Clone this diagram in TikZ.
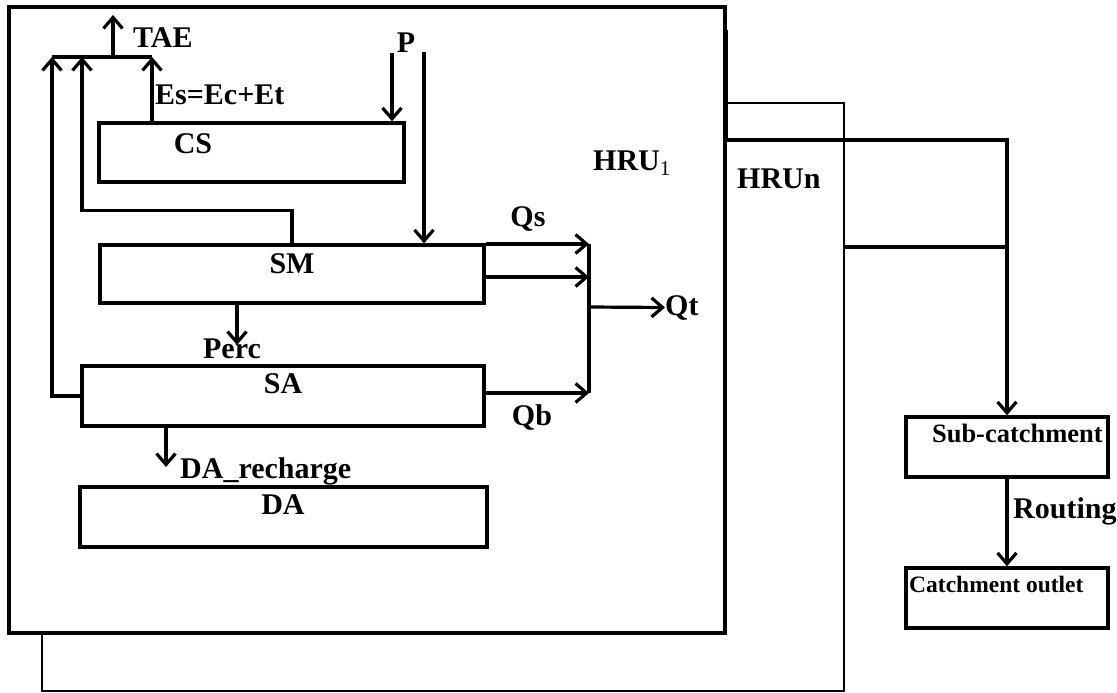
\documentclass[tikz,border=0pt]{standalone}
\usepackage{fontspec}
\setmainfont{Liberation Serif}
\usepackage{tikz}
\usetikzlibrary{arrows.meta,calc}

\begin{document}
\begin{tikzpicture}[
  x=1pt,y=-1pt,
  font=\fontsize{30}{34}\selectfont\bfseries,
  box/.style={draw,line width=3.4pt,fill=white,inner sep=0pt},
  lbl/.style={inner sep=0pt},
  flow/.style={line width=3.2pt},
  arr/.style={flow,-{Straight Barb[length=11pt,width=19pt,line width=3.2pt]}},
]
\useasboundingbox (0,0) rectangle (1117,693);

% HRUn (behind)
\node[box,line width=2.4pt,minimum width=802pt,minimum height=588pt] (hrun) at (443,397) {};

% HRU1
\node[box,minimum width=716pt,minimum height=626pt] (hru1) at (367,320) {};
\node[lbl,anchor=base west] (hru1lbl) at (593,170) {HRU\textsubscript{\mdseries 1}};
\node[lbl,anchor=base west] (hrunlbl) at (737,188) {HRUn};

% stores
\node[box,minimum width=305pt,minimum height=59pt] (cs) at (251.5,152.5) {};
\node[box,minimum width=384pt,minimum height=58pt] (sm) at (292,274) {};
\node[box,minimum width=402pt,minimum height=60pt] (sa) at (283,396) {};
\node[box,minimum width=407pt,minimum height=60pt] (da) at (283.5,517) {};
\node[lbl,anchor=base] (cslbl) at (193,153) {CS};
\node[lbl,anchor=base] (smlbl) at (292,273) {SM};
\node[lbl,anchor=base] (salbl) at (283,393) {SA};
\node[lbl,anchor=base] (dalbl) at (283,514) {DA};

% Sub-catchment / outlet
\node[box,minimum width=202pt,minimum height=60pt] (sub) at (1007,447) {};
\node[box,minimum width=202pt,minimum height=60pt] (out) at (1007,598) {};
\node[lbl,anchor=base east,font=\fontsize{26.5}{30}\selectfont\bfseries] (sublbl) at (1103,442) {Sub-catchment};
\node[lbl,anchor=base west,font=\fontsize{23.5}{28}\selectfont\bfseries] (outlbl) at (909,592) {Catchment outlet};

% flux labels
\node[lbl,anchor=base west] (tae) at (133,48) {TAE};
\node[lbl,anchor=base west] (es) at (155,105) {Es=Ec+Et};
\node[lbl,anchor=base] (plbl) at (406,53) {P};
\node[lbl,anchor=base] (qs) at (528,226) {Qs};
\node[lbl,anchor=base west] (qt) at (665,315) {Qt};
\node[lbl,anchor=base] (qb) at (532,425) {Qb};
\node[lbl,anchor=base] (perc) at (232,358) {Perc};
\node[lbl,anchor=base west] (darech) at (180,478) {DA\_recharge};
\node[lbl,anchor=base west] (routing) at (1013,518) {Routing};

% junctions
\coordinate (etsa) at (52,57);
\coordinate (etsm) at (82,57);
\coordinate (etae) at (113,57);
\coordinate (etcs) at (152,57);
\coordinate (taetop) at (113,15);
\coordinate (p1) at (392,53);
\coordinate (p2) at (424,52);
\coordinate (q1) at (589,244);
\coordinate (q2) at (589,277);
\coordinate (q3) at (589,393);
\coordinate (qtot) at (589,307);
\coordinate (pc) at (237,345);
\coordinate (dr) at (166,467);
\coordinate (j1) at (1007,140);
\coordinate (j2) at (1007,247);

% evaporation
\draw[flow] (etsa) -- (etcs);
\draw[arr] (etae) -- (taetop);
\draw[arr] (etcs |- cs.north) -- (etcs);
\draw[arr] (sm.north) -- ++(0,-33) -| (etsm);
\draw[arr] (sa.west) -| (etsa);

% rainfall
\draw[arr] (p1) -- (p1 |- cs.north);
\draw[arr] (p2) -- (p2 |- sm.north);

% runoff
\draw[arr] (q1 -| sm.east) -- (q1);
\draw[arr] (q2 -| sm.east) -- (q2);
\draw[arr] (q3 -| sa.east) -- (q3);
\draw[flow] (q1) -- (q3);
\draw[arr] (qtot) -- (qt.west);

% percolation
\draw[arr] (pc |- sm.south) -- (pc);
\draw[arr] (dr |- sa.south) -- (dr);

% routing
\draw[arr] ($(hru1.north east)+(0,25)$) |- (j1) -- (sub.north);
\draw[flow] (j2 -| hrun.east) -- (j2);
\draw[arr] (sub.south) -- (out.north);

\end{tikzpicture}
\end{document}
